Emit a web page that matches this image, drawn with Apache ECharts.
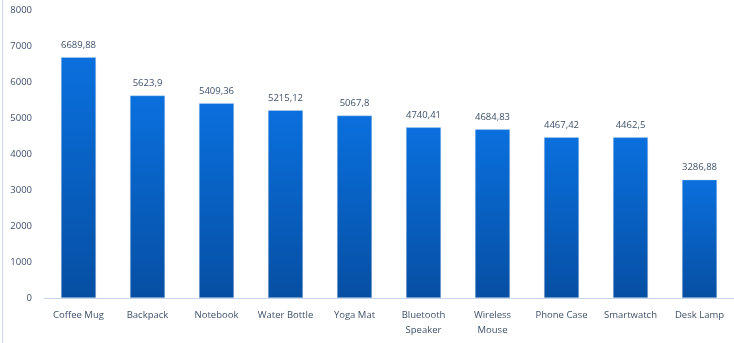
<!DOCTYPE html>
<html><head><meta charset="utf-8">
<script src="https://cdn.jsdelivr.net/npm/echarts@6/dist/echarts.min.js"></script>
<style>html,body{margin:0;padding:0;background:#fff}#c{width:734px;height:343px}</style>
</head><body><div id="c"></div>
<script>
const categories = ['Coffee Mug','Backpack','Notebook','Water Bottle','Yoga Mat','Bluetooth\nSpeaker','Wireless\nMouse','Phone Case','Smartwatch','Desk Lamp'];
const values = [6689.88, 5623.9, 5409.36, 5215.12, 5067.8, 4740.41, 4684.83, 4467.42, 4462.5, 3286.88];
const valueLabels = ['6689,88','5623,9','5409,36','5215,12','5067,8','4740,41','4684,83','4467,42','4462,5','3286,88'];
const yTicks = [0,1000,2000,3000,4000,5000,6000,7000,8000];

const chart = echarts.init(document.getElementById('c'));
chart.setOption({
  animation:false,
  graphic:[{type:'line',shape:{x1:2.5,y1:0,x2:2.5,y2:343},style:{stroke:'#c9daf0',lineWidth:1}}],
  grid:{left:44,top:10,bottom:45,width:700},
  xAxis:{type:'category',data:categories,
    axisLine:{lineStyle:{color:'#c5d6ee',width:1}},axisTick:{show:false},
    axisLabel:{color:'#3f5069',fontSize:9.5,fontFamily:'Open Sans',margin:10,lineHeight:15,interval:0}},
  yAxis:{type:'value',min:yTicks[0],max:yTicks[yTicks.length-1],interval:yTicks[1]-yTicks[0],
    axisLine:{show:false},axisTick:{show:false},splitLine:{show:false},
    axisLabel:{color:'#3f5069',fontSize:9.5,fontFamily:'Open Sans',margin:12,formatter:v=>String(v)}},
  series:[{type:'bar',barWidth:35,
    data:values.map((v,i)=>({value:v,label:{formatter:valueLabels[i]}})),
    itemStyle:{color:new echarts.graphic.LinearGradient(0,0,0,1,[{offset:0,color:'#0a70de'},{offset:1,color:'#064fa3'}]),
      borderColor:'rgba(200,215,235,0.8)',borderWidth:0.5},
    label:{show:true,position:'top',distance:7,color:'#3f5069',fontSize:9.5,fontFamily:'Open Sans'}}]
});
</script></body></html>
